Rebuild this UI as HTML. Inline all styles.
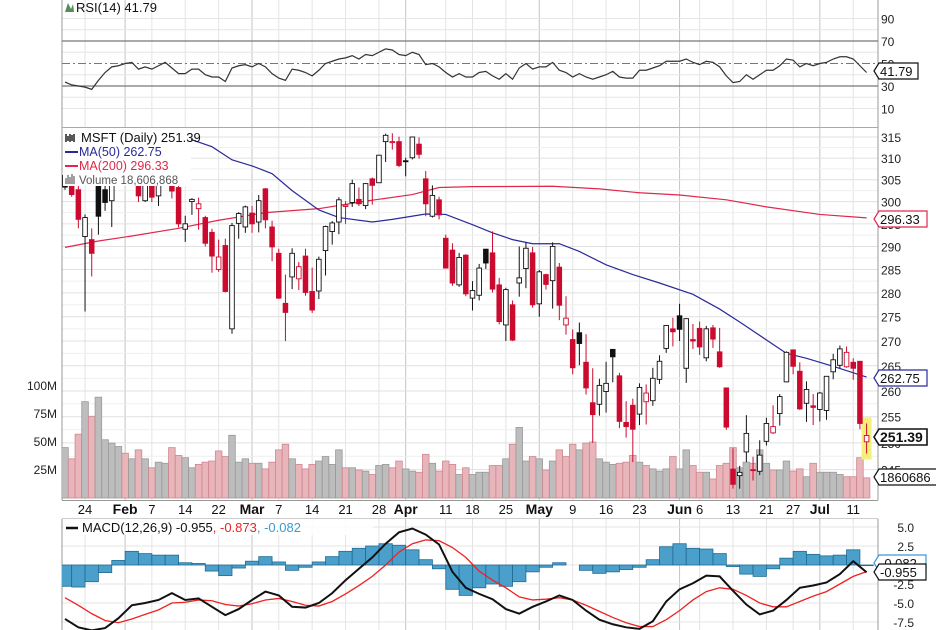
<!DOCTYPE html>
<html><head><meta charset="utf-8">
<style>
html,body{margin:0;padding:0;background:#fff;}
svg{display:block;font-family:"Liberation Sans",sans-serif;}
</style></head>
<body>
<svg id="chart" width="936" height="630" viewBox="0 0 936 630" xmlns="http://www.w3.org/2000/svg"></svg>
<script>
// ---------- DATA ----------
const opens = [306,309.1,302.7,292.2,291.5,307.0,302.7,300.2,308.9,310.4,309.6,309.5,300.2,306.2,301.3,309.9,304.0,303.2,293.8,300.0,298.4,296.4,293.1,285.0,290.2,272.5,295.1,294.3,297.4,295.4,302.9,294.3,288.5,277.8,283.4,283.0,287.9,280.3,280.4,289.1,293.3,295.4,298.9,299.8,300.5,299.1,305.2,304.3,313.9,313.8,313.9,309.4,310.1,313.3,305.2,296.7,300.4,291.8,289.2,281.7,288.1,278.9,279.5,289.4,288.6,281.7,273.3,277.5,282.1,285.2,288.6,277.7,283.9,282.6,285.5,273.3,270.3,271.7,265.7,257.7,257.4,259.9,268.3,263.0,253.9,257.2,255.5,257.9,258.1,262.3,268.5,272.5,275.2,264.5,270.3,272.6,266.6,272.7,267.8,260.6,245.1,243.9,248.3,245.0,244.7,250.3,251.9,255.6,261.8,268.2,263.9,257.6,257.1,256.4,256.2,263.8,265.1,264.8,265.7,265.9,250.2];
const highs = [313.9,311.7,304.1,297.1,294.0,308.5,307.3,308.5,312.4,310.6,315.1,311.2,308.8,307.8,305.3,311.9,309.1,304.8,296.8,300.8,300.9,296.8,293.9,291.5,291.7,295.2,297.6,299.1,299.0,301.5,303.1,295.7,289.5,283.9,289.6,286.6,289.5,285.4,287.8,294.6,295.6,301.0,300.1,305.0,303.2,304.2,305.5,310.8,315.8,315.9,315.1,310.1,315.1,314.9,307.0,303.7,301.1,292.6,290.7,288.6,288.3,282.5,286.2,289.4,293.3,283.2,281.1,278.4,290.0,290.9,289.9,284.9,284.1,290.9,286.4,279.3,272.4,273.8,271.4,264.5,262.4,265.8,268.3,263.6,258.0,258.5,261.5,261.3,264.6,267.1,273.3,274.8,277.7,274.7,273.5,274.0,273.1,273.3,272.7,260.6,249.0,245.7,255.3,247.4,250.5,254.8,257.2,259.4,267.9,268.3,265.7,261.9,259.4,259.8,262.9,267.4,269.1,268.9,266.5,265.9,253.7];
const lows = [302.7,301.1,294.0,276.1,283.5,292.6,297.9,294.3,305.0,305.1,305.6,299.9,299.9,299.9,299.0,307.4,300.7,294.2,291.0,297.0,293.7,290.0,284.3,284.5,280.1,271.5,291.7,293.0,293.0,293.1,294.0,286.8,278.7,270.0,280.8,280.6,279.4,275.8,278.7,283.7,290.4,292.7,295.0,298.8,299.0,298.3,299.3,304.3,309.1,312.0,307.9,305.8,309.7,309.9,296.7,296.4,296.0,285.2,281.5,281.3,279.3,276.3,278.4,285.1,280.1,273.4,270.0,270.0,279.2,281.0,276.9,275.0,280.7,276.7,274.3,271.3,263.3,265.1,259.3,250.0,255.2,255.8,261.7,252.8,251.0,246.4,253.4,253.5,257.1,261.4,267.6,268.9,270.0,261.6,268.4,267.2,265.9,268.6,264.6,252.5,241.5,241.5,246.4,243.0,244.0,249.5,251.7,253.3,261.7,263.3,256.3,254.0,253.4,254.1,254.4,262.3,264.5,264.6,262.2,252.6,248.0];
const closes = [303.3,301.6,296.0,296.4,288.5,296.7,299.8,308.3,311.0,308.8,313.5,301.3,305.9,301.0,304.6,311.2,302.4,295.0,295.0,300.5,299.5,290.7,287.9,287.7,280.3,294.6,297.3,298.8,295.0,300.2,295.9,289.9,278.9,275.9,288.5,285.6,280.1,276.4,287.2,294.4,295.2,300.4,299.2,304.1,299.5,304.1,303.7,310.7,315.4,313.9,308.3,309.4,315.0,310.9,299.5,301.4,297.0,285.3,282.1,287.6,279.8,280.5,285.3,286.4,280.8,274.0,280.7,270.2,283.2,289.6,277.5,284.5,281.8,290.0,277.4,274.7,264.6,269.5,260.6,255.4,261.1,261.5,266.8,254.1,253.1,252.6,260.7,259.6,262.5,265.9,273.2,271.9,272.4,274.6,270.0,268.8,272.5,270.4,264.8,253.0,242.3,244.5,251.8,245.0,247.7,253.7,253.1,258.9,267.7,264.9,256.5,260.3,256.8,259.6,262.9,266.2,268.4,267.7,264.5,253.7,251.4];
const volumes = [45,35,57,86,73,90,52,49,46,40,35,43,35,27,32,31,45,38,36,27,30,32,33,42,37,56,32,35,31,31,26,32,43,48,35,30,26,30,33,37,30,43,27,27,25,24,21,29,30,27,33,26,24,23,39,31,24,33,30,21,27,21,23,23,29,29,35,48,63,33,37,35,25,33,43,37,48,43,49,50,35,32,30,31,32,38,32,29,26,24,26,37,26,43,29,23,23,17,29,31,45,27,32,31,43,31,25,25,33,24,26,19,31,23,23,23,21,19,19,36,18];
const rsiValues = [33.5,31,30,29,27,35,42,47,48,50,51,45,47,45,48,51,46,41,41,45,45,40,38,38,34,46,48,49,47,50,47,41,37,35,45,44,42,39,44,50,52,54,55,57,54,58,57,60,63,62,58,57,60,58,49,50,47,42,38,41,38,38,42,43,39,36,41,36,46,50,45,47,47,51,44,42,38,41,38,36,38,40,43,38,37,37,44,44,46,48,52,52,52,54,51,49,52,51,47,39,33,34,40,36,40,44,44,48,54,53,47,50,48,50,51,54,56,56,54,48,42];
const ma50Days = [15,22,25,28,31,34,38,41,46,49,54,57,61,64,67,70,74,77,81,85,89,94,98,101,108,111,115,120];
const ma50Values = [316.5,312.7,309.6,308.2,306.4,302.5,298.1,296.4,295.4,296.0,297.2,297.1,294.8,293.0,291.5,290.6,290.6,288.9,286.0,283.9,282.1,279.7,276.6,273.9,267.5,266.5,264.9,262.75];
const ma200Days = [0,5,10,17,23,30,38,45,52,56,61,73,80,86,92,99,105,113,120];
const ma200Values = [289.8,291.2,292.3,294.0,295.8,297.5,298.4,300.1,301.6,303.2,303.4,303.5,302.9,302.0,301.5,300.4,298.8,297.1,296.33];
const macdDays = [0,2,4,6,8,10,12,14,16,18,20,22,24,26,28,30,32,34,36,38,40,42,44,46,48,50,52,54,56,58,60,62,64,66,68,70,72,74,76,78,80,82,84,86,88,90,92,94,96,98,100,102,104,106,108,110,112,114,116,118,120];
const macdValues = [-7.1,-8.2,-8.6,-8.3,-7.0,-5.3,-5.0,-4.6,-3.7,-4.6,-4.4,-5.5,-6.6,-5.8,-4.6,-3.5,-4.0,-5.5,-5.6,-5.0,-3.7,-2.0,-0.5,1.0,2.8,4.3,4.8,4.0,2.7,-0.9,-3.0,-3.8,-4.5,-5.8,-6.4,-5.5,-4.8,-4.0,-4.6,-6.0,-7.2,-7.8,-8.2,-8.4,-7.4,-4.8,-3.2,-2.4,-1.4,-1.5,-3.4,-5.2,-6.5,-6.0,-4.6,-3.0,-2.7,-2.3,-1.2,0.5,-0.955];
const signalValues = [-4.3,-5.3,-6.4,-7.3,-7.6,-7.1,-6.5,-5.9,-5.0,-4.9,-4.6,-4.7,-5.2,-5.4,-5.1,-4.6,-4.4,-4.8,-5.3,-5.4,-4.8,-3.8,-2.7,-1.5,0.0,1.7,2.8,3.3,3.2,2.3,1.0,-0.8,-2.0,-3.0,-4.2,-4.6,-4.5,-4.3,-4.6,-5.3,-6.1,-6.9,-7.6,-8.1,-8.1,-7.2,-6.0,-4.6,-3.5,-3.0,-3.2,-4.0,-5.0,-5.5,-5.5,-4.8,-4.1,-3.5,-2.5,-1.5,-0.873];
const dateTickDays = [3,9,13,18,23,28,32,37,42,47,51,57,61,66,71,76,81,86,92,95,100,105,109,113,118];
const dateTickLabels = ["24","Feb","7","14","22","Mar","7","14","21","28","Apr","11","18","25","May","9","16","23","Jun","6","13","21","27","Jul","11"];
const priceTicks = [315,310,305,300,295,290,285,280,275,270,265,260,255,250,245];
const rsiTicks = [90,70,50,30,10];
const volTicks = [25,50,75,100];
const volTickLabels = ["25M","50M","75M","100M"];
const macdTicks = [5.0,2.5,0,-2.5,-5.0,-7.5];

// ---------- SCALES ----------
const L = 62, R = 878;
const xD = d => 65 + d * 6.68;
const yP = p => 137 + 1323.6 * Math.log(315 / p);
const yR = r => 41 + (70 - r) * 1.125;
const yV = v => 498 - v * 28 / 25;
const yM = m => 565 - m * 7.6;

const NS = "http://www.w3.org/2000/svg";
const svg = document.getElementById("chart");
function mk(tag, attrs, parent) {
  const e = document.createElementNS(NS, tag);
  for (const k in attrs) e.setAttribute(k, attrs[k]);
  (parent || svg).appendChild(e);
  return e;
}
function txt(s, attrs, parent) { const t = mk("text", attrs, parent); t.textContent = s; return t; }

const defs = mk("defs", {});
const cp1 = mk("clipPath", {id: "cpPrice"}, defs); mk("rect", {x: L, y: 128, width: R - L, height: 372}, cp1);
const cp2 = mk("clipPath", {id: "cpRsi"}, defs); mk("rect", {x: L, y: 0, width: R - L, height: 127}, cp2);
const cp3 = mk("clipPath", {id: "cpMacd"}, defs); mk("rect", {x: L, y: 519, width: R - L, height: 111}, cp3);

// ---------- GRID ----------
const grid = mk("g", {});


dateTickDays.forEach((d, i) => {
  const isMonth = isNaN(+dateTickLabels[i]);
  const x = xD(d);
  [[0,127],[128,500],[519,630]].forEach(([a,b]) => mk("line", {x1: x, x2: x, y1: a, y2: b, stroke: isMonth ? "#c4c4c4" : "#e4e4e4", "stroke-width": 1}, grid));
});
[90,80,60,40,20,10].forEach(r => mk("line", {x1: L, x2: R, y1: yR(r), y2: yR(r), stroke: "#e6e6e6"}, grid));
for (let p = 315; p >= 245; p -= 2.5) mk("line", {x1: L, x2: R, y1: yP(p), y2: yP(p), stroke: p % 5 === 0 ? "#e0e0e0" : "#efefef"}, grid);
macdTicks.forEach(m => mk("line", {x1: L, x2: R, y1: yM(m), y2: yM(m), stroke: "#e4e4e4"}, grid));

mk("line", {x1: L, x2: L, y1: 0, y2: 500, stroke: "#999"});
mk("line", {x1: L, x2: L, y1: 519, y2: 630, stroke: "#999"});
mk("line", {x1: R, x2: R, y1: 0, y2: 500, stroke: "#999"});
mk("line", {x1: R, x2: R, y1: 519, y2: 630, stroke: "#999"});
mk("line", {x1: L, x2: R, y1: 127.5, y2: 127.5, stroke: "#aaa"});
mk("line", {x1: L, x2: R, y1: 500.5, y2: 500.5, stroke: "#999"});
mk("line", {x1: L, x2: R, y1: 518.5, y2: 518.5, stroke: "#ccc"});

// ---------- RSI ----------
const rsiG = mk("g", {"clip-path": "url(#cpRsi)"});


mk("line", {x1: L, x2: R, y1: yR(70), y2: yR(70), stroke: "#777", "stroke-width": 1.3}, rsiG);
mk("line", {x1: L, x2: R, y1: yR(30), y2: yR(30), stroke: "#777", "stroke-width": 1.3}, rsiG);
mk("line", {x1: L, x2: R, y1: yR(50), y2: yR(50), stroke: "#777", "stroke-dasharray": "8,3,2,3"}, rsiG);
const rsiLine = mk("polyline", {points: rsiValues.map((v, i) => xD(i) + "," + yR(v)).join(" "), fill: "none", stroke: "#333", "stroke-width": 1.2}, rsiG);


rsiTicks.forEach(t => {
  const e = txt(String(t), {x: 881, y: yR(t) + 5, "font-size": 12, fill: "#222"});
  
  
});
const rsiTitle = txt("RSI(14) 41.79", {x: 76, y: 12, "font-size": 13, fill: "#111"});


mk("path", {d: "M65,12 L68,3 L71,9 L73,4 L74,12 Z", fill: "#5a8a5a"});

// ---------- VOLUME ----------
const volG = mk("g", {"clip-path": "url(#cpPrice)"});


volumes.forEach((v, i) => {
  const down = i > 0 && closes[i] < closes[i - 1];
  const r = mk("rect", {x: xD(i) - 3.3, y: yV(v), width: 6.6, height: 498 - yV(v), fill: down ? "#e8b5bb" : "#bdbdbd", stroke: down ? "#d08890" : "#9a9a9a", "stroke-width": 0.8}, volG);
  
  
});
volTicks.forEach((v, i) => {
  const e = txt(volTickLabels[i], {x: 57, y: yV(v) + 4, "font-size": 12, "text-anchor": "end", fill: "#222"});
  
  
});

// ---------- PRICE ----------
const priceG = mk("g", {"clip-path": "url(#cpPrice)"});


mk("rect", {x: xD(120) - 5, y: yP(highs[120]) - 6, width: 10, height: yP(lows[120]) - yP(highs[120]) + 12, fill: "#f5f07a"}, priceG);
const ma200 = mk("polyline", {points: ma200Days.map((d, i) => xD(d) + "," + yP(ma200Values[i])).join(" "), fill: "none", stroke: "#e0284a", "stroke-width": 1.2}, priceG);


const ma50 = mk("polyline", {points: ma50Days.map((d, i) => xD(d) + "," + yP(ma50Values[i])).join(" "), fill: "none", stroke: "#2a2a9a", "stroke-width": 1.2}, priceG);


closes.forEach((c, i) => {
  const o = opens[i], h = highs[i], l = lows[i];
  const down = i > 0 && c < closes[i - 1];
  const col = down ? "#cc0a2f" : "#111";
  const x = xD(i);
  const g = mk("g", {}, priceG);
  
  
  mk("line", {x1: x, x2: x, y1: yP(h), y2: yP(l), stroke: col, "stroke-width": 1}, g);
  const top = yP(Math.max(o, c)), bot = yP(Math.min(o, c));
  mk("rect", {x: x - 2.3, y: top, width: 4.6, height: Math.max(1, bot - top), fill: c > o ? "#fff" : col, stroke: col, "stroke-width": 0.9}, g);
});
priceTicks.forEach(p => {
  const e = txt(String(p), {x: 881, y: yP(p) + 5, "font-size": 12, fill: "#222"});
  
  
});

const leg = mk("g", {});


mk("rect", {x: 63, y: 128, width: 128, height: 58, fill: "#fff"}, leg);
const lg1 = txt("MSFT (Daily) 251.39", {x: 81, y: 142, "font-size": 13, fill: "#111"}, leg);


mk("path", {d: "M66,134 v8 M68,136 v5 M70,134 v8 M72,135 v6 M74,134 v8", stroke: "#111", "stroke-width": 1.4}, leg);
mk("line", {x1: 65, x2: 78, y1: 152, y2: 152, stroke: "#2a2a9a", "stroke-width": 2}, leg);
const lg2 = txt("MA(50) 262.75", {x: 79, y: 156, "font-size": 12.5, fill: "#2a2a9a"}, leg);


mk("line", {x1: 65, x2: 78, y1: 166, y2: 166, stroke: "#e0284a", "stroke-width": 2}, leg);
const lg3 = txt("MA(200) 296.33", {x: 79, y: 170, "font-size": 12.5, fill: "#e0284a"}, leg);


mk("path", {d: "M66,184 v-6 M68,184 v-9 M70,184 v-7 M72,184 v-10 M74,184 v-8", stroke: "#777", "stroke-width": 1.4}, leg);
const lg4 = txt("Volume 18,606,868", {x: 79, y: 184, "font-size": 11.5, fill: "#555"}, leg);



// ---------- DATE AXIS ----------
dateTickDays.forEach((d, i) => {
  const isMonth = isNaN(+dateTickLabels[i]);
  const e = txt(dateTickLabels[i], {x: xD(d), y: 514, "font-size": isMonth ? 14 : 13, "font-weight": isMonth ? "bold" : "normal", "text-anchor": "middle", fill: "#111"});
  
  
});

// ---------- MACD ----------
const macdG = mk("g", {"clip-path": "url(#cpMacd)"});


macdDays.forEach((d, i) => {
  const h = macdValues[i] - signalValues[i];
  const y0 = yM(0), y1 = yM(h);
  const r = mk("rect", {x: xD(d) - 6.68, y: Math.min(y0, y1), width: 13.36, height: Math.abs(y1 - y0), fill: "#4b9fcb", stroke: "#1f6b94", "stroke-width": 0.8}, macdG);
  
  
});
const sigLine = mk("polyline", {points: macdDays.map((d, i) => xD(d) + "," + yM(signalValues[i])).join(" "), fill: "none", stroke: "#ee2222", "stroke-width": 1.3}, macdG);


const mLine = mk("polyline", {points: macdDays.map((d, i) => xD(d) + "," + yM(macdValues[i])).join(" "), fill: "none", stroke: "#111", "stroke-width": 2}, macdG);


macdTicks.forEach(m => {
  if (m === 0) return;
  const e = txt(m.toFixed(1), {x: 914, y: yM(m) + 5, "font-size": 12, "text-anchor": "end", fill: "#222"});
  
  
});
mk("rect", {x: 63, y: 519, width: 310, height: 16, fill: "#fff", opacity: 0.85});
mk("line", {x1: 66, x2: 78, y1: 528, y2: 528, stroke: "#111", "stroke-width": 2.5});
const mt = mk("text", {x: 82, y: 532, "font-size": 13, fill: "#111"});


mt.innerHTML = 'MACD(12,26,9) -0.955<tspan fill="#ee2222">, -0.873</tspan><tspan fill="#3c9ad0">, -0.082</tspan>';

// ---------- VALUE TAGS ----------
function tag(label, y, color, bold, w, name) {
  const g = mk("g", {});
  
  
  mk("path", {d: `M874,${y} L879,${y-8} L${879+w},${y-8} L${879+w},${y+8} L879,${y+8} Z`, fill: "#fff", stroke: color, "stroke-width": bold ? 1.6 : 1.2}, g);
  txt(label, {x: 880, y: y + 5, "font-size": bold ? 14 : 13, "font-weight": bold ? "bold" : "normal", fill: "#111"}, g);
}
tag("41.79", 71, "#111", false, 39, "rsi-value-tag");
tag("296.33", 219, "#e0284a", false, 48, "ma200-value-tag");
tag("262.75", 378, "#2a2a9a", false, 48, "ma50-value-tag");
tag("251.39", 437, "#111", true, 48, "price-value-tag");
tag("1860686", 477, "#111", false, 60, "volume-value-tag");
tag("-0.082", 563, "#3c9ad0", false, 47, "histogram-value-tag");
tag("-0.955", 572, "#111", false, 47, "macd-value-tag");
</script>
</body></html>
